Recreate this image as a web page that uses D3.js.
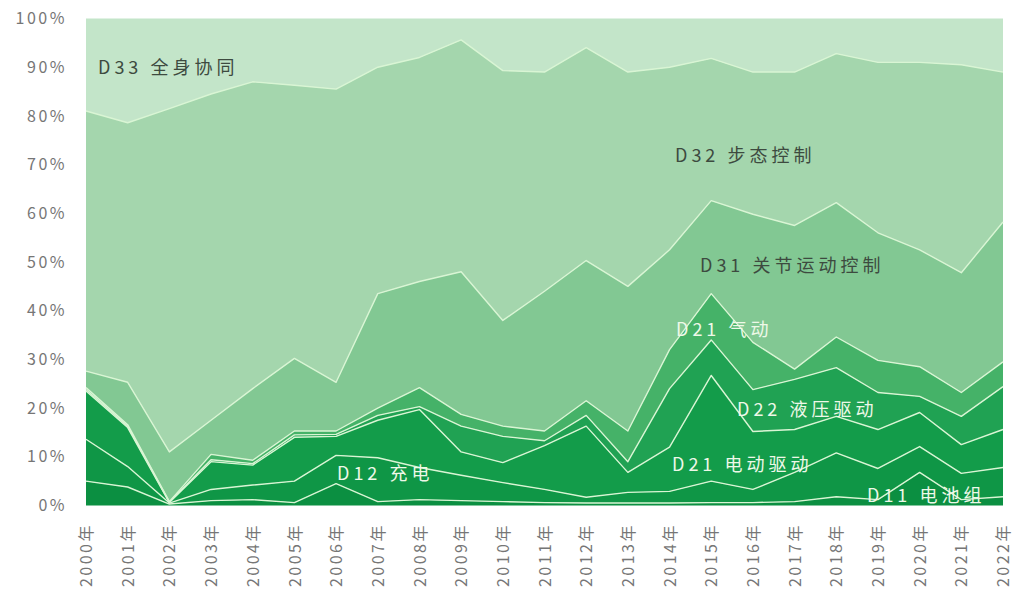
<!DOCTYPE html>
<html>
<head>
<meta charset="utf-8">
<script src="https://cdn.jsdelivr.net/npm/d3@7"></script>
<style>
  body { margin: 0; background: #fff; }
  svg { display: block; font-family: "Noto Sans CJK SC", "Noto Sans", sans-serif; }
</style>
</head>
<body>
<svg id="chart" width="1023" height="600"></svg>
<script>
// data (share of each branch, %)
const years = d3.range(2000, 2023);
const yearLabels = years.map(y => y + "年");
const seriesNames = ["D11 电池组", "D12 充电", "D21 电动驱动", "D22 液压驱动", "D23 气动", "D31 关节运动控制", "D32 步态控制", "D33 全身协同"];

const d11 = [5.0, 3.8, 0.3, 1.0, 1.2, 0.6, 4.5, 0.8, 1.2, 1.0, 0.8, 0.6, 0.5, 0.5, 0.5, 0.6, 0.6, 0.8, 1.8, 1.2, 6.8, 1.2, 1.8];
const d12 = [8.6, 4.2, 0.2, 2.3, 3.0, 4.4, 5.8, 9.0, 6.6, 5.2, 3.9, 2.7, 1.2, 2.2, 2.4, 4.4, 2.7, 6.0, 9.0, 6.4, 5.3, 5.4, 6.0];
const d21 = [9.9, 8.0, 0.1, 5.7, 4.1, 9.0, 3.9, 7.7, 11.9, 4.8, 4.1, 9.0, 14.6, 4.1, 9.1, 21.7, 11.9, 8.8, 7.5, 8.0, 7.0, 5.9, 7.8];
const d22 = [0.3, 0.3, 0.1, 0.4, 0.3, 0.5, 0.4, 1.0, 0.6, 5.3, 5.4, 1.0, 2.2, 2.2, 12.0, 7.3, 8.6, 10.3, 10.0, 7.6, 3.3, 5.8, 8.8];
const d23 = [0.4, 0.3, 0.1, 1.1, 0.7, 0.8, 0.7, 1.5, 3.9, 2.4, 2.1, 2.0, 3.0, 6.3, 8.0, 9.5, 9.7, 2.1, 6.3, 6.6, 6.1, 4.9, 5.1];
const d31 = [3.4, 8.7, 10.2, 7.0, 14.7, 14.9, 10.0, 23.5, 21.8, 29.3, 21.7, 28.7, 28.8, 29.7, 20.5, 19.1, 26.3, 29.5, 27.6, 26.2, 24.0, 24.6, 28.7];
const d32 = [53.4, 53.3, 70.5, 67.0, 63.0, 56.1, 60.2, 46.5, 46.0, 47.6, 51.3, 45.0, 43.7, 44.0, 37.5, 29.2, 29.2, 31.5, 30.6, 35.0, 38.5, 42.7, 30.8];
const d33 = [19.0, 21.4, 18.5, 15.5, 13.0, 13.7, 14.5, 10.0, 8.0, 4.4, 10.7, 11.0, 6.0, 11.0, 10.0, 8.2, 11.0, 11.0, 7.2, 9.0, 9.0, 9.5, 11.0];
const seriesValues = [d11, d12, d21, d22, d23, d31, d32, d33];

const yTicks = d3.range(0, 1.01, 0.1);

// in-chart label text as printed on the original
const labelTexts = ["D11 电池组", "D12 充电", "D21 电动驱动", "D22 液压驱动", "D21 气动", "D31 关节运动控制", "D32 步态控制", "D33 全身协同"];

// layout
const colors = ["#0b8f41", "#0f9646", "#139c4a", "#20a253", "#45b268", "#82c893", "#a4d6ad", "#c3e5c9"];
const labelPos = [[867, 502], [337, 480], [672, 471], [737, 416], [676, 336], [700, 272], [675, 162], [98, 74]];
const labelFill = ["#eef8e8", "#eef8e8", "#eef8e8", "#eef8e8", "#eef8e8", "#3d4a3f", "#3d4a3f", "#3d4a3f"];

const svg = d3.select("#chart");
const x = d3.scaleLinear().domain([2000, 2022]).range([86, 1003]);
const y = d3.scaleLinear().domain([0, 1]).range([505.5, 18.5]);

const rows = years.map((yr, i) => {
  const r = { year: yr };
  seriesNames.forEach((n, k) => r[n] = seriesValues[k][i]);
  return r;
});

const stacked = d3.stack()
  .keys(seriesNames)
  .offset(d3.stackOffsetExpand)(rows);

const area = d3.area()
  .x(d => x(d.data.year))
  .y0(d => y(d[0]))
  .y1(d => y(d[1]));

svg.append("g")
  .selectAll("path")
  .data(stacked)
  .join("path")
  .attr("d", area)
  .attr("fill", (d, i) => colors[i]);

const line = d3.line()
  .x(d => x(d.data.year))
  .y(d => y(d[1]));

svg.append("g")
  .selectAll("path")
  .data(stacked.slice(0, stacked.length - 1))
  .join("path")
  .attr("d", line)
  .attr("fill", "none")
  .attr("stroke", "#d9f5d4")
  .attr("stroke-width", 1.4)
  .attr("stroke-linejoin", "round");

// y axis
const yAxis = d3.axisLeft(y)
  .tickValues(yTicks)
  .tickFormat(d3.format(".0%"))
  .tickSize(0)
  .tickPadding(0);

svg.append("g")
  .attr("transform", "translate(67,0)")
  .call(yAxis)
  .call(g => g.select(".domain").remove())
  .selectAll("text")
  .attr("font-family", "'Noto Sans CJK SC', sans-serif")
  .attr("font-size", 16)
  .attr("letter-spacing", "2.5px")
  .attr("fill", "#767676");

// x axis
const xAxis = d3.axisBottom(x)
  .tickValues(years)
  .tickFormat((d, i) => yearLabels[i])
  .tickSize(0)
  .tickPadding(0);

svg.append("g")
  .attr("transform", "translate(0,523)")
  .call(xAxis)
  .call(g => g.select(".domain").remove())
  .selectAll("text")
  .attr("font-family", "'Noto Sans CJK SC', sans-serif")
  .attr("font-size", 16)
  .attr("letter-spacing", "2.5px")
  .attr("fill", "#767676")
  .attr("text-anchor", "end")
  .attr("dy", "0.35em")
  .attr("transform", "rotate(-90)")
  .attr("x", 0)
  .attr("y", 0);

// in-chart labels
svg.append("g")
  .selectAll("text")
  .data(labelTexts)
  .join("text")
  .attr("x", (d, i) => labelPos[i][0])
  .attr("y", (d, i) => labelPos[i][1])
  .attr("font-size", 18)
  .attr("letter-spacing", "4px")
  .attr("fill", (d, i) => labelFill[i])
  .text(d => d);
</script>
</body>
</html>
